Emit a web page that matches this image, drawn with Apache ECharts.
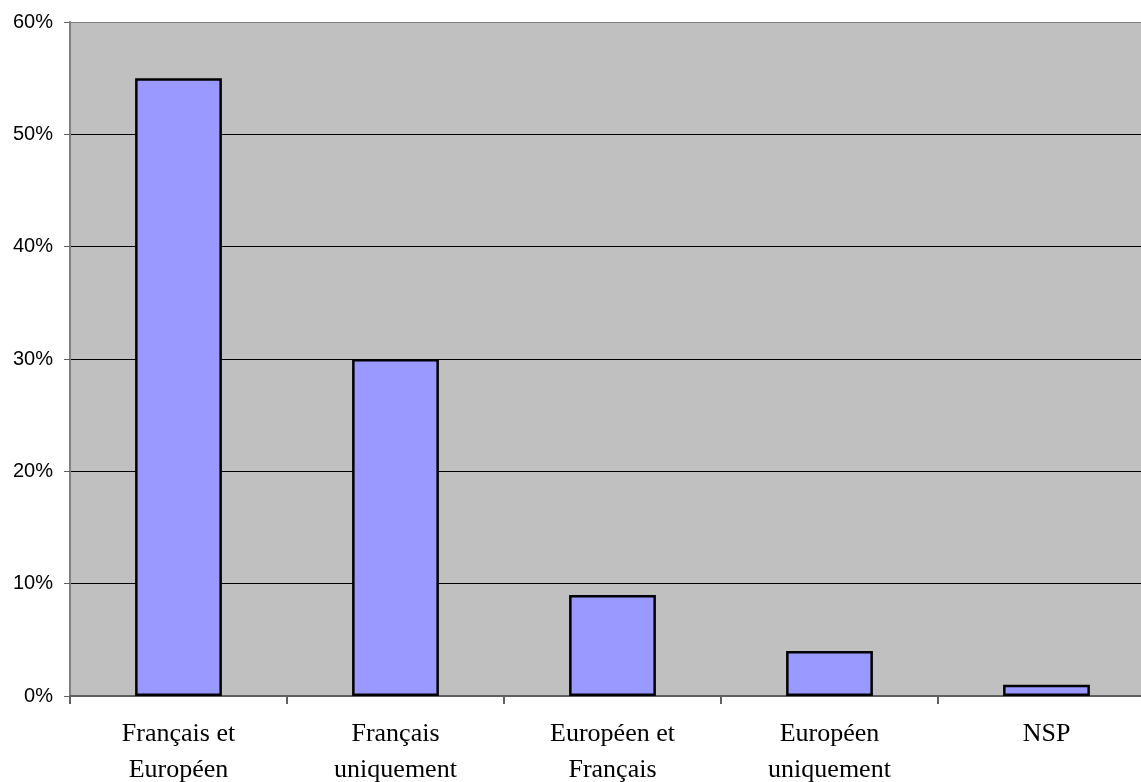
<!DOCTYPE html>
<html>
<head>
<meta charset="utf-8">
<script src="https://cdn.jsdelivr.net/npm/echarts@6/dist/echarts.min.js"></script>
<style>
html,body{margin:0;padding:0;background:#fff;}
#chart{width:1141px;height:782px;}
</style>
</head>
<body>
<div id="chart"></div>
<script>
const categories = ["Français et\nEuropéen", "Français\nuniquement", "Européen et\nFrançais", "Européen\nuniquement", "NSP"];
const values = [55, 30, 9, 4, 1];
const yTicks = [0, 10, 20, 30, 40, 50, 60];

const chart = echarts.init(document.getElementById('chart'), null, {renderer: 'canvas'});
chart.setOption({
  animation: false,
  backgroundColor: '#ffffff',
  grid: {
    left: 70, top: 22, right: -14, bottom: 86,
    outerBoundsMode: 'none',
    containLabel: false,
    show: true, backgroundColor: '#C0C0C0', borderWidth: 0
  },
  xAxis: {
    type: 'category',
    data: categories,
    axisLine: {show: true, lineStyle: {color: '#606060', width: 2}},
    axisTick: {show: true, length: 8, lineStyle: {color: '#606060', width: 2}},
    axisLabel: {
      margin: 20,
      fontFamily: '"Liberation Serif", "Times New Roman", serif',
      fontSize: 26,
      lineHeight: 36,
      color: '#000'
    }
  },
  yAxis: {
    type: 'value',
    min: yTicks[0], max: yTicks[yTicks.length - 1], interval: 10,
    axisLine: {show: true, lineStyle: {color: '#808080', width: 2}},
    axisTick: {show: true, length: 6, lineStyle: {color: '#606060', width: 1}},
    axisLabel: {
      formatter: '{value}%',
      margin: 17,
      fontFamily: '"Liberation Sans", Arial, sans-serif',
      fontSize: 20,
      color: '#000'
    },
    splitLine: {show: true, lineStyle: {color: ['#808080', '#000', '#000', '#000', '#000', '#000', '#808080'], width: 1}}
  },
  series: [{
    type: 'bar',
    data: values,
    barCategoryGap: '60%',
    itemStyle: {color: '#9999FF', borderColor: '#000', borderWidth: 2.5}
  }]
});
</script>
</body>
</html>
